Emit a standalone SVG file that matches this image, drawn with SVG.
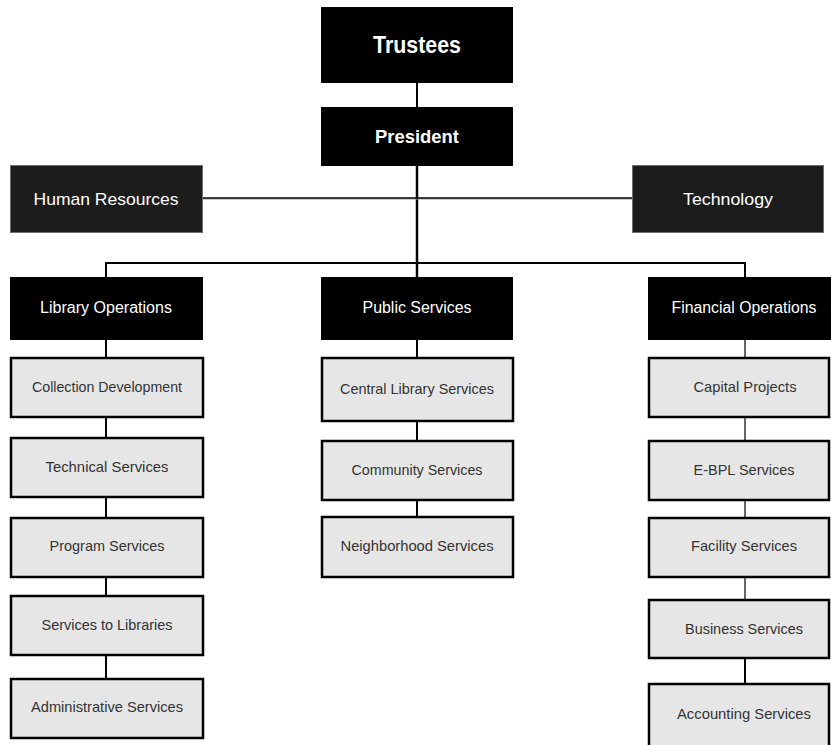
<svg xmlns="http://www.w3.org/2000/svg" width="831" height="745" viewBox="0 0 831 745">
<style>
  .blk { fill: #000; }
  .dk { fill: #1c1c1c; stroke: #6e6e6e; stroke-width: 1; }
  .sub { fill: #e6e6e6; stroke: #000; stroke-width: 2.5; }
  .ht { font-family: "Liberation Sans", Arial, sans-serif; fill: #fff; text-anchor: middle; }
  .st { font-family: "Liberation Sans", Arial, sans-serif; fill: #333; font-size: 15px; text-anchor: middle; }
  .ln { stroke: #000; stroke-width: 2; fill: none; }
  .thin { stroke: #000; stroke-width: 1.2; fill: none; }
</style>
<g id="connectors">
  <line class="ln" x1="417" y1="83" x2="417" y2="107"/>
  <line class="ln" x1="417" y1="166" x2="417" y2="277" style="stroke-width:2.5"/>
  <line x1="186" y1="199" x2="633" y2="199" stroke="#999" stroke-width="1"/>
  <line x1="186" y1="198" x2="633" y2="198" stroke="#000" stroke-width="1.3"/>
  <polyline class="ln" points="106,277 106,263 745,263 745,277"/>
  <line class="ln" x1="106" y1="340" x2="106" y2="357"/>
  <line class="ln" x1="106" y1="417" x2="106" y2="437"/>
  <line class="ln" x1="106" y1="497" x2="106" y2="517"/>
  <line class="ln" x1="106" y1="577" x2="106" y2="595"/>
  <line class="ln" x1="106" y1="655" x2="106" y2="678"/>
  <line class="ln" x1="417" y1="340" x2="417" y2="357"/>
  <line class="ln" x1="417" y1="421" x2="417" y2="440"/>
  <line class="ln" x1="417" y1="500" x2="417" y2="516"/>
  <line class="thin" x1="745" y1="340" x2="745" y2="357"/>
  <line class="thin" x1="745" y1="417" x2="745" y2="440"/>
  <line class="thin" x1="745" y1="500" x2="745" y2="517"/>
  <line class="thin" x1="745" y1="577" x2="745" y2="599"/>
  <line class="ln" x1="745" y1="658" x2="745" y2="683"/>
</g>
<g id="trustees">
  <rect class="blk" x="321" y="7" width="192" height="76"/>
  <text class="ht" x="417" y="53" font-size="23" font-weight="bold" textLength="88" lengthAdjust="spacingAndGlyphs">Trustees</text>
</g>
<g id="president">
  <rect class="blk" x="321" y="107" width="192" height="59"/>
  <text class="ht" x="417" y="143" font-size="19" font-weight="bold" textLength="84" lengthAdjust="spacingAndGlyphs">President</text>
</g>
<g id="human-resources">
  <rect class="dk" x="10.5" y="165.5" width="192" height="67"/>
  <text class="ht" x="106" y="205" font-size="17" textLength="145" lengthAdjust="spacingAndGlyphs">Human Resources</text>
</g>
<g id="technology">
  <rect class="dk" x="632.5" y="165.5" width="191" height="67"/>
  <text class="ht" x="728" y="205" font-size="17" textLength="90" lengthAdjust="spacingAndGlyphs">Technology</text>
</g>
<g id="library-operations">
  <rect class="blk" x="10" y="277" width="193" height="63"/>
  <text class="ht" x="106" y="313" font-size="16" textLength="132" lengthAdjust="spacingAndGlyphs">Library Operations</text>
</g>
<g id="public-services">
  <rect class="blk" x="321" y="277" width="192" height="63"/>
  <text class="ht" x="417" y="313" font-size="16" textLength="109" lengthAdjust="spacingAndGlyphs">Public Services</text>
</g>
<g id="financial-operations">
  <rect class="blk" x="648" y="277" width="183" height="63"/>
  <text class="ht" x="744" y="313" font-size="16" textLength="145" lengthAdjust="spacingAndGlyphs">Financial Operations</text>
</g>
<g id="collection-development">
  <rect class="sub" x="11" y="358" width="192" height="59"/>
  <text class="st" x="107" y="392" textLength="150" lengthAdjust="spacingAndGlyphs">Collection Development</text>
</g>
<g id="technical-services">
  <rect class="sub" x="11" y="438" width="192" height="59"/>
  <text class="st" x="107" y="472" textLength="123" lengthAdjust="spacingAndGlyphs">Technical Services</text>
</g>
<g id="program-services">
  <rect class="sub" x="11" y="518" width="192" height="59"/>
  <text class="st" x="107" y="551" textLength="115" lengthAdjust="spacingAndGlyphs">Program Services</text>
</g>
<g id="services-to-libraries">
  <rect class="sub" x="11" y="596" width="192" height="59"/>
  <text class="st" x="107" y="630" textLength="131" lengthAdjust="spacingAndGlyphs">Services to Libraries</text>
</g>
<g id="administrative-services">
  <rect class="sub" x="11" y="679" width="192" height="59"/>
  <text class="st" x="107" y="712" textLength="152" lengthAdjust="spacingAndGlyphs">Administrative Services</text>
</g>
<g id="central-library-services">
  <rect class="sub" x="322" y="358" width="191" height="63"/>
  <text class="st" x="417" y="394" textLength="154" lengthAdjust="spacingAndGlyphs">Central Library Services</text>
</g>
<g id="community-services">
  <rect class="sub" x="322" y="441" width="191" height="59"/>
  <text class="st" x="417" y="475" textLength="131" lengthAdjust="spacingAndGlyphs">Community Services</text>
</g>
<g id="neighborhood-services">
  <rect class="sub" x="322" y="517" width="191" height="60"/>
  <text class="st" x="417" y="551" textLength="153" lengthAdjust="spacingAndGlyphs">Neighborhood Services</text>
</g>
<g id="capital-projects">
  <rect class="sub" x="649" y="358" width="180" height="59"/>
  <text class="st" x="745" y="392" textLength="103" lengthAdjust="spacingAndGlyphs">Capital Projects</text>
</g>
<g id="e-bpl-services">
  <rect class="sub" x="649" y="441" width="180" height="59"/>
  <text class="st" x="744" y="475" textLength="101" lengthAdjust="spacingAndGlyphs">E-BPL Services</text>
</g>
<g id="facility-services">
  <rect class="sub" x="649" y="518" width="180" height="59"/>
  <text class="st" x="744" y="551" textLength="106" lengthAdjust="spacingAndGlyphs">Facility Services</text>
</g>
<g id="business-services">
  <rect class="sub" x="649" y="600" width="180" height="58"/>
  <text class="st" x="744" y="634" textLength="118" lengthAdjust="spacingAndGlyphs">Business Services</text>
</g>
<g id="accounting-services">
  <rect class="sub" x="649" y="684" width="180" height="70"/>
  <text class="st" x="744" y="719" textLength="134" lengthAdjust="spacingAndGlyphs">Accounting Services</text>
</g>
</svg>
